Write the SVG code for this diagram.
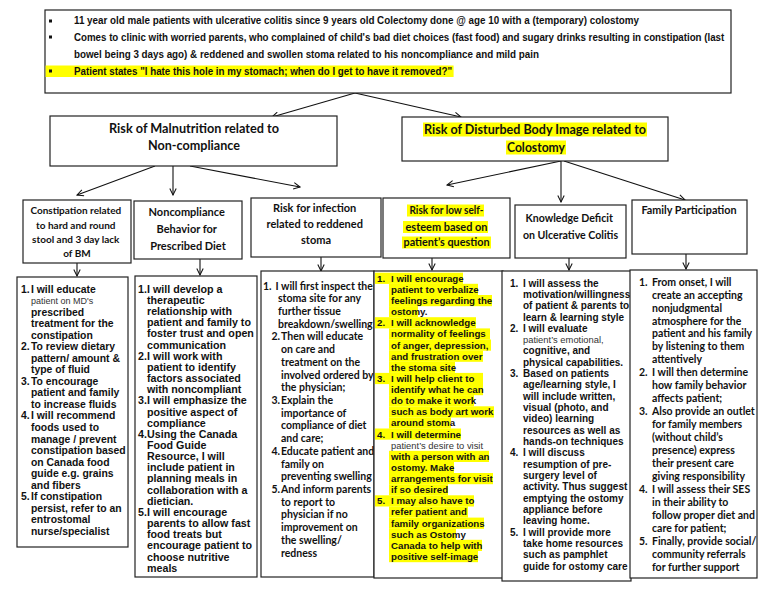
<svg xmlns="http://www.w3.org/2000/svg" width="768" height="594" viewBox="0 0 768 594">
<defs>
<marker id="ah" viewBox="0 0 10 10" refX="9" refY="5" markerWidth="8" markerHeight="8" orient="auto" markerUnits="userSpaceOnUse"><path d="M1,1 L9,5 L1,9" fill="none" stroke="#111" stroke-width="1.3"/></marker>
<style>
.box{fill:#fff;stroke:#222;stroke-width:1.2}
.hl{fill:#ffff00}
.top{font-family:"Liberation Sans",Arial,sans-serif;font-weight:bold;font-size:10.5px;fill:#111}
.hd{font-family:Lato,"Open Sans",sans-serif;font-weight:bold;fill:#111;text-anchor:middle}
.ar{font-family:"Liberation Sans",Arial,sans-serif;font-weight:bold;fill:#111}
.la{font-family:Lato,"Open Sans",sans-serif;font-weight:bold;fill:#111}
.rg{font-family:"Liberation Sans",Arial,sans-serif;font-weight:normal;fill:#333}
.cn line{stroke:#111;stroke-width:1.1;marker-end:url(#ah)}
</style>
</defs>
<rect width="768" height="594" fill="#fff"/>

<g id="connectors" class="cn">
<line x1="355" y1="93" x2="272" y2="117"/>
<line x1="355" y1="93" x2="461" y2="117"/>
<line x1="155" y1="166" x2="77" y2="195"/>
<line x1="173" y1="166" x2="173" y2="195"/>
<line x1="190" y1="166" x2="300" y2="187"/>
<line x1="561" y1="161" x2="447" y2="185"/>
<line x1="561" y1="161" x2="561" y2="202"/>
<line x1="564" y1="161" x2="685" y2="200"/>
<line x1="77" y1="263" x2="77" y2="276"/>
<line x1="200" y1="259" x2="200" y2="275"/>
<line x1="321" y1="257" x2="321" y2="271"/>
<line x1="432" y1="258" x2="432" y2="270"/>
<line x1="569" y1="258" x2="569" y2="270"/>
<line x1="686" y1="254" x2="686" y2="269"/>
</g>

<g id="case">
<rect class="box" x="45" y="10" width="686" height="83"/>
<rect class="hl" x="45.6" y="65.5" width="408" height="11.5"/>
<rect x="49" y="19.5" width="3" height="3" fill="#111"/>
<rect x="49" y="35.5" width="3" height="3" fill="#111"/>
<rect x="49" y="69.5" width="3" height="3" fill="#111"/>
<g transform="translate(74 0) scale(0.82 1)">
<text class="top" x="0" y="24.5" textLength="689" lengthAdjust="spacingAndGlyphs">11 year old male patients with ulcerative colitis since 9 years old Colectomy done @ age 10 with a  (temporary) colostomy</text>
<text class="top" x="0" y="41" textLength="793" lengthAdjust="spacingAndGlyphs">Comes to clinic with worried parents, who complained of child's bad diet choices (fast food) and sugary drinks resulting in constipation (last</text>
<text class="top" x="0" y="58" textLength="567" lengthAdjust="spacingAndGlyphs">bowel being 3 days ago) &amp; reddened and swollen stoma related to his noncompliance and mild pain</text>
<text class="top" x="0" y="75" textLength="461" lengthAdjust="spacingAndGlyphs">Patient states "I hate this hole in my stomach; when do I get to have it removed?"</text>
</g>
</g>

<g id="malnutrition">
<rect class="box" x="50" y="116" width="287" height="50"/>
<text class="hd" font-size="12.5" x="194" y="132.5" textLength="170" lengthAdjust="spacingAndGlyphs">Risk of Malnutrition related to</text>
<text class="hd" font-size="12.5" x="194" y="149.5" textLength="92" lengthAdjust="spacingAndGlyphs">Non-compliance</text>
</g>

<g id="body-image">
<rect class="box" x="402" y="117" width="266" height="44"/>
<rect class="hl" x="423" y="122.5" width="224" height="14"/>
<rect class="hl" x="506" y="140.5" width="60" height="14"/>
<text class="hd" font-size="12.5" x="535" y="133.5" textLength="222" lengthAdjust="spacingAndGlyphs">Risk of Disturbed Body Image related to</text>
<text class="hd" font-size="12.5" x="536" y="151.5" textLength="58" lengthAdjust="spacingAndGlyphs">Colostomy</text>
</g>

<g id="constipation">
<rect class="box" x="23" y="200" width="108" height="63"/>
<text class="hd" font-size="10">
<tspan x="77" y="214">Constipation related</tspan>
<tspan x="77" y="228.5">to hard and round</tspan>
<tspan x="77" y="243">stool and 3 day lack</tspan>
<tspan x="77" y="257">of BM</tspan>
</text>
</g>

<g id="constipation-interventions">
<rect class="box" x="17" y="277" width="111" height="270"/>
<text class="ar" font-size="10.4">
<tspan x="21" y="292.7">1.</tspan><tspan x="31" y="292.7">I will educate</tspan>
<tspan x="31" y="315.7">prescribed</tspan>
<tspan x="31" y="327.3">treatment for the</tspan>
<tspan x="31" y="338.8">constipation</tspan>
<tspan x="21" y="350.3">2.</tspan><tspan x="31" y="350.3">To review dietary</tspan>
<tspan x="31" y="361.8">pattern/ amount  &amp;</tspan>
<tspan x="31" y="373.3">type of fluid</tspan>
<tspan x="21" y="384.9">3.</tspan><tspan x="31" y="384.9">To encourage</tspan>
<tspan x="31" y="396.4">patient and family</tspan>
<tspan x="31" y="407.9">to increase fluids</tspan>
<tspan x="21" y="419.4">4.</tspan><tspan x="31" y="419.4">I will recommend</tspan>
<tspan x="31" y="430.9">foods used to</tspan>
<tspan x="31" y="442.5">manage / prevent</tspan>
<tspan x="31" y="454">constipation based</tspan>
<tspan x="31" y="465.5">on Canada food</tspan>
<tspan x="31" y="477">guide e.g. grains</tspan>
<tspan x="31" y="488.5">and fibers</tspan>
<tspan x="21" y="500.1">5.</tspan><tspan x="31" y="500.1">If constipation</tspan>
<tspan x="31" y="511.6">persist, refer to an</tspan>
<tspan x="31" y="523.1">entrostomal</tspan>
<tspan x="31" y="534.6">nurse/specialist</tspan>
</text>
<text class="rg" font-size="9" x="31" y="304.2">patient on MD's</text>
</g>

<g id="noncompliance">
<rect class="box" x="134" y="201" width="108" height="58"/>
<text class="hd" font-size="11">
<tspan x="188" y="216">Noncompliance</tspan>
<tspan x="188" y="233">Behavior for</tspan>
<tspan x="188" y="250">Prescribed Diet</tspan>
</text>
</g>

<g id="noncompliance-interventions">
<rect class="box" x="135" y="276" width="122" height="301"/>
<text class="ar" font-size="10.7">
<tspan x="138" y="292.7">1.</tspan><tspan x="147" y="292.7">I will develop a</tspan>
<tspan x="147" y="303.9">therapeutic</tspan>
<tspan x="147" y="315">relationship with</tspan>
<tspan x="147" y="326.2">patient and family to</tspan>
<tspan x="147" y="337.3">foster trust and open</tspan>
<tspan x="147" y="348.5">communication</tspan>
<tspan x="138" y="359.7">2.</tspan><tspan x="147" y="359.7">I will work with</tspan>
<tspan x="147" y="370.8">patient to identify</tspan>
<tspan x="147" y="382">factors associated</tspan>
<tspan x="147" y="393.1">with noncompliant</tspan>
<tspan x="138" y="404.3">3.</tspan><tspan x="147" y="404.3">I will emphasize the</tspan>
<tspan x="147" y="415.5">positive aspect of</tspan>
<tspan x="147" y="426.6">compliance</tspan>
<tspan x="138" y="437.8">4.</tspan><tspan x="147" y="437.8">Using the Canada</tspan>
<tspan x="147" y="448.9">Food Guide</tspan>
<tspan x="147" y="460.1">Resource, I will</tspan>
<tspan x="147" y="471.3">include patient in</tspan>
<tspan x="147" y="482.4">planning meals in</tspan>
<tspan x="147" y="493.6">collaboration with a</tspan>
<tspan x="147" y="504.7">dietician.</tspan>
<tspan x="138" y="515.9">5.</tspan><tspan x="147" y="515.9">I will encourage</tspan>
<tspan x="147" y="527.1">parents to allow fast</tspan>
<tspan x="147" y="538.2">food treats but</tspan>
<tspan x="147" y="549.4">encourage patient to</tspan>
<tspan x="147" y="560.5">choose nutritive</tspan>
<tspan x="147" y="571.7">meals</tspan>
</text>
</g>

<g id="infection">
<rect class="box" x="251" y="198" width="130" height="59"/>
<text class="hd" font-size="11">
<tspan x="316" y="212">Risk for infection</tspan>
<tspan x="316" y="228">related to reddened</tspan>
<tspan x="316" y="244">stoma</tspan>
</text>
</g>

<g id="infection-interventions">
<rect class="box" x="261" y="271" width="113" height="306"/>
<text class="la" font-size="10.5">
<tspan x="263" y="289.6">1.</tspan><tspan x="275.5" y="289.6">I will first inspect the</tspan>
<tspan x="278" y="302.3">stoma site for any</tspan>
<tspan x="278" y="315">further tissue</tspan>
<tspan x="278" y="327.7">breakdown/swelling</tspan>
<tspan x="271.5" y="340.4">2.</tspan><tspan x="281" y="340.4">Then will educate</tspan>
<tspan x="281" y="353.2">on care and</tspan>
<tspan x="281" y="365.9">treatment on the</tspan>
<tspan x="281" y="378.6">involved ordered by</tspan>
<tspan x="281" y="391.3">the physician;</tspan>
<tspan x="271.5" y="404">3.</tspan><tspan x="281" y="404">Explain the</tspan>
<tspan x="281" y="416.7">importance of</tspan>
<tspan x="281" y="429.4">compliance of diet</tspan>
<tspan x="281" y="442.1">and care;</tspan>
<tspan x="271.5" y="454.8">4.</tspan><tspan x="281" y="454.8">Educate patient and</tspan>
<tspan x="281" y="467.5">family on</tspan>
<tspan x="281" y="480.3">preventing swelling</tspan>
<tspan x="271.5" y="493">5.</tspan><tspan x="281" y="493">And inform parents</tspan>
<tspan x="281" y="505.7">to report to</tspan>
<tspan x="281" y="518.4">physician if no</tspan>
<tspan x="281" y="531.1">improvement on</tspan>
<tspan x="281" y="543.8">the swelling/</tspan>
<tspan x="281" y="556.5">redness</tspan>
</text>
</g>

<g id="self-esteem">
<rect class="box" x="383" y="198" width="127" height="60"/>
<rect class="hl" x="407" y="204.5" width="77" height="12"/>
<rect class="hl" x="403" y="221" width="85" height="12"/>
<rect class="hl" x="402" y="236.5" width="89" height="12"/>
<text class="hd" font-size="11" x="446.5" y="214" textLength="74" lengthAdjust="spacingAndGlyphs">Risk for low self-</text>
<text class="hd" font-size="11" x="446.5" y="231" textLength="82" lengthAdjust="spacingAndGlyphs">esteem based on</text>
<text class="hd" font-size="11" x="446.5" y="246" textLength="86" lengthAdjust="spacingAndGlyphs">patient’s question</text>
</g>

<g id="self-esteem-interventions">
<rect class="box" x="374" y="271" width="129" height="307"/>
<g class="hl">
<rect x="375" y="272.7" width="88" height="11.2"/>
<rect x="389" y="283.8" width="89" height="11.2"/>
<rect x="389" y="295" width="103" height="11.2"/>
<rect x="389" y="306.1" width="29" height="11.2"/>
<rect x="375" y="317.2" width="101" height="11.2"/>
<rect x="389" y="328.4" width="101" height="11.2"/>
<rect x="389" y="339.5" width="102" height="11.2"/>
<rect x="389" y="350.6" width="94" height="11.2"/>
<rect x="389" y="361.7" width="66" height="11.2"/>
<rect x="375" y="372.9" width="108" height="11.2"/>
<rect x="389" y="384" width="94" height="11.2"/>
<rect x="389" y="395.1" width="85" height="11.2"/>
<rect x="389" y="406.3" width="105" height="11.2"/>
<rect x="389" y="417.4" width="62" height="11.2"/>
<rect x="375" y="428.5" width="86" height="11.2"/>
<rect x="389" y="450.8" width="100" height="11.2"/>
<rect x="389" y="461.9" width="65" height="11.2"/>
<rect x="389" y="473" width="104" height="11.2"/>
<rect x="389" y="484.2" width="59" height="11.2"/>
<rect x="375" y="495.3" width="99" height="11.2"/>
<rect x="389" y="506.4" width="79" height="11.2"/>
<rect x="389" y="517.6" width="95" height="11.2"/>
<rect x="389" y="528.7" width="67" height="11.2"/>
<rect x="389" y="539.8" width="93" height="11.2"/>
<rect x="389" y="551" width="89" height="11.2"/>
</g>
<text class="ar" font-size="9.7">
<tspan x="377" y="281.7">1.</tspan><tspan x="391" y="281.7">I will encourage</tspan>
<tspan x="391" y="292.8">patient to verbalize</tspan>
<tspan x="391" y="304">feelings regarding the</tspan>
<tspan x="391" y="315.1">ostomy.</tspan>
<tspan x="377" y="326.2">2.</tspan><tspan x="391" y="326.2">I will acknowledge</tspan>
<tspan x="391" y="337.4">normality of feelings</tspan>
<tspan x="391" y="348.5">of anger, depression,</tspan>
<tspan x="391" y="359.6">and frustration over</tspan>
<tspan x="391" y="370.7">the stoma site</tspan>
<tspan x="377" y="381.9">3.</tspan><tspan x="391" y="381.9">I will help client to</tspan>
<tspan x="391" y="393">identify what he can</tspan>
<tspan x="391" y="404.1">do to make it work</tspan>
<tspan x="391" y="415.3">such as body art work</tspan>
<tspan x="391" y="426.4">around stoma</tspan>
<tspan x="377" y="437.5">4.</tspan><tspan x="391" y="437.5">I will determine</tspan>
<tspan x="391" y="459.8">with a person with an</tspan>
<tspan x="391" y="470.9">ostomy. Make</tspan>
<tspan x="391" y="482">arrangements for visit</tspan>
<tspan x="391" y="493.2">if so desired</tspan>
<tspan x="377" y="504.3">5.</tspan><tspan x="391" y="504.3">I may also have to</tspan>
<tspan x="391" y="515.4">refer patient and</tspan>
<tspan x="391" y="526.6">family organizations</tspan>
<tspan x="391" y="537.7">such as Ostomy</tspan>
<tspan x="391" y="548.8">Canada to help with</tspan>
<tspan x="391" y="560">positive self-image</tspan>
</text>
<text class="rg" font-size="9.4" x="391" y="448.7">patient’s desire to visit</text>
</g>

<g id="knowledge">
<rect class="box" x="515" y="205" width="111" height="53"/>
<text class="hd" font-size="10.6">
<tspan x="570.5" y="222">Knowledge Deficit</tspan>
<tspan x="570.5" y="239">on Ulcerative Colitis</tspan>
</text>
</g>

<g id="knowledge-interventions">
<rect class="box" x="502" y="271" width="129" height="310"/>
<text class="ar" font-size="10">
<tspan x="510" y="286.5">1.</tspan><tspan x="523" y="286.5">I will assess the</tspan>
<tspan x="523" y="297.8">motivation/willingness</tspan>
<tspan x="523" y="309.1">of patient &amp; parents to</tspan>
<tspan x="523" y="320.5">learn &amp; learning style</tspan>
<tspan x="510" y="331.8">2.</tspan><tspan x="523" y="331.8">I will evaluate</tspan>
<tspan x="523" y="354.4">cognitive, and</tspan>
<tspan x="523" y="365.7">physical capabilities.</tspan>
<tspan x="510" y="377.1">3.</tspan><tspan x="523" y="377.1">Based on patients</tspan>
<tspan x="523" y="388.4">age/learning style, I</tspan>
<tspan x="523" y="399.7">will include written,</tspan>
<tspan x="523" y="411">visual (photo, and</tspan>
<tspan x="523" y="422.3">video) learning</tspan>
<tspan x="523" y="433.7">resources as well as</tspan>
<tspan x="523" y="445">hands-on techniques</tspan>
<tspan x="510" y="456.3">4.</tspan><tspan x="523" y="456.3">I will discuss</tspan>
<tspan x="523" y="467.6">resumption of pre-</tspan>
<tspan x="523" y="478.9">surgery level of</tspan>
<tspan x="523" y="490.3">activity. Thus suggest</tspan>
<tspan x="523" y="501.6">emptying the ostomy</tspan>
<tspan x="523" y="512.9">appliance before</tspan>
<tspan x="523" y="524.2">leaving home.</tspan>
<tspan x="510" y="535.5">5.</tspan><tspan x="523" y="535.5">I will provide more</tspan>
<tspan x="523" y="546.9">take home resources</tspan>
<tspan x="523" y="558.2">such as pamphlet</tspan>
<tspan x="523" y="569.5">guide for ostomy care</tspan>
</text>
<text class="rg" font-size="9.4" x="523" y="343.1">patient’s emotional,</text>
</g>

<g id="family">
<rect class="box" x="632" y="200" width="115" height="54"/>
<text class="hd" font-size="10.8" x="689" y="214">Family Participation</text>
</g>

<g id="family-interventions">
<rect class="box" x="630" y="270" width="127" height="308"/>
<text class="la" font-size="10.5">
<tspan x="639" y="285.6">1.</tspan><tspan x="652" y="285.6">From onset, I will</tspan>
<tspan x="652" y="298.6">create an accepting</tspan>
<tspan x="652" y="311.5">nonjudgmental</tspan>
<tspan x="652" y="324.5">atmosphere for the</tspan>
<tspan x="652" y="337.4">patient and his family</tspan>
<tspan x="652" y="350.4">by listening to them</tspan>
<tspan x="652" y="363.3">attentively</tspan>
<tspan x="639" y="376.3">2.</tspan><tspan x="652" y="376.3">I will then determine</tspan>
<tspan x="652" y="389.2">how family behavior</tspan>
<tspan x="652" y="402.2">affects patient;</tspan>
<tspan x="639" y="415.1">3.</tspan><tspan x="652" y="415.1">Also provide an outlet</tspan>
<tspan x="652" y="428.1">for family members</tspan>
<tspan x="652" y="441">(without child’s</tspan>
<tspan x="652" y="454">presence) express</tspan>
<tspan x="652" y="466.9">their present care</tspan>
<tspan x="652" y="479.9">giving responsibility</tspan>
<tspan x="639" y="492.8">4.</tspan><tspan x="652" y="492.8">I will assess their SES</tspan>
<tspan x="652" y="505.8">in their ability to</tspan>
<tspan x="652" y="518.7">follow proper diet and</tspan>
<tspan x="652" y="531.7">care for patient;</tspan>
<tspan x="639" y="544.6">5.</tspan><tspan x="652" y="544.6">Finally, provide social/</tspan>
<tspan x="652" y="557.6">community  referrals</tspan>
<tspan x="652" y="570.5">for further support</tspan>
</text>
</g>
</svg>
